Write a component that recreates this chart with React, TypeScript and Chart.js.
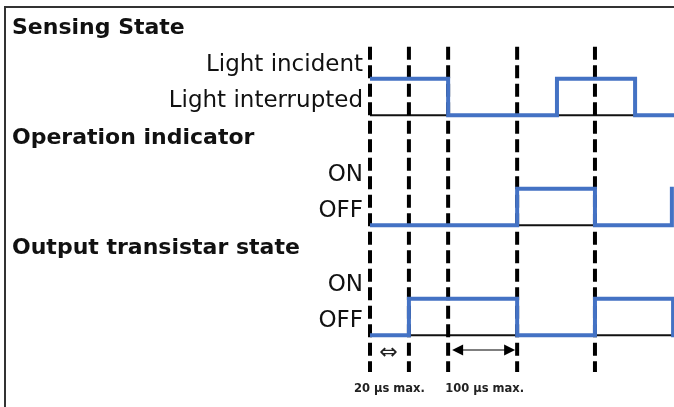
import React, { useEffect, useRef } from "react";
import { Chart, registerables } from "chart.js";

Chart.register(...registerables);

// Timing values (arbitrary time units, 0..100 across the diagram)
const dividerTimes = [0, 12.8, 25.7, 48.4, 74.0];

const sensingTimes = [0, 25.7, 61.5, 87.2, 100];
const sensingStates = [1, 0, 1, 0, 0]; // 1 = light incident, 0 = light interrupted

const indicatorTimes = [0, 48.4, 74.0, 99.3];
const indicatorStates = [0, 1, 0, 1]; // 1 = ON

const outputTimes = [0, 12.8, 48.4, 74.0, 99.7];
const outputStates = [0, 1, 0, 1, 0]; // 1 = ON

const rowLabels = [
  "Sensing State",
  "Light incident",
  "Light interrupted",
  "Operation indicator",
  "ON",
  "OFF",
  "Output transistar state",
  "ON",
  "OFF",
];
const headerRows = [0, 3, 6];

// row index for [low, high] level of each signal
const sensingRows = [2, 1];
const indicatorRows = [5, 4];
const outputRows = [8, 7];

const spanLabels = ["20 µs max.", "100 µs max."];
const spanStart = [0, 2]; // divider index
const spanEnd = [1, 3];

const BLUE = "#4472C4";

function wave(times: number[], states: number[], rows: number[]) {
  return times.map((t, i) => ({ x: t, y: rows[states[i]] }));
}

const textPlugin = {
  id: "timingText",
  afterDraw(chart: any) {
    const ctx = chart.ctx as CanvasRenderingContext2D;
    const xs = chart.scales.x;
    const ys = chart.scales.y;
    ctx.save();
    // frame
    ctx.strokeStyle = "#333";
    ctx.lineWidth = 2;
    ctx.strokeRect(5, 7, 2000, 2000);

    // row labels
    const x0 = xs.getPixelForValue(dividerTimes[0]);
    ctx.fillStyle = "#111";
    ctx.textBaseline = "alphabetic";
    rowLabels.forEach((label, r) => {
      const y = ys.getPixelForValue(r) - 8;
      if (headerRows.includes(r)) {
        ctx.font = "bold 22px 'DejaVu Sans'";
        ctx.textAlign = "left";
        ctx.fillText(label, 12, y);
      } else {
        ctx.font = "23px 'DejaVu Sans'";
        ctx.textAlign = "right";
        ctx.fillText(label, x0 - 7, y);
      }
    });

    // span annotations
    spanLabels.forEach((label, i) => {
      const a = xs.getPixelForValue(dividerTimes[spanStart[i]]);
      const b = xs.getPixelForValue(dividerTimes[spanEnd[i]]);
      const mid = (a + b) / 2;
      if (i === 0) {
        ctx.font = "22px 'DejaVu Sans'";
        ctx.textAlign = "center";
        ctx.textBaseline = "middle";
        ctx.fillStyle = "#222";
        ctx.fillText("⇔", mid - 1, ys.getPixelForValue(8.5));
      } else {
        const y = ys.getPixelForValue(8.4);
        const l = a + 4;
        const rgt = b - 2;
        ctx.strokeStyle = "#555";
        ctx.lineWidth = 1.5;
        ctx.beginPath();
        ctx.moveTo(l + 8, y);
        ctx.lineTo(rgt - 8, y);
        ctx.stroke();
        ctx.fillStyle = "#000";
        ctx.beginPath();
        ctx.moveTo(l, y);
        ctx.lineTo(l + 11, y - 5.5);
        ctx.lineTo(l + 11, y + 5.5);
        ctx.closePath();
        ctx.fill();
        ctx.beginPath();
        ctx.moveTo(rgt, y);
        ctx.lineTo(rgt - 11, y - 5.5);
        ctx.lineTo(rgt - 11, y + 5.5);
        ctx.closePath();
        ctx.fill();
      }
      ctx.font = "bold 11.5px 'DejaVu Sans'";
      ctx.textAlign = "center";
      ctx.textBaseline = "alphabetic";
      ctx.fillStyle = "#222";
      ctx.fillText(label, mid + (i === 1 ? 2 : 0), ys.getPixelForValue(9.55));
    });
    ctx.restore();
  },
};

export default function App() {
  const ref = useRef<HTMLCanvasElement>(null);
  useEffect(() => {
    document.body.style.margin = "0";
    if (!ref.current) return;
    const waveStyle = {
      borderColor: BLUE,
      borderWidth: 4,
      stepped: true as const,
      pointRadius: 0,
      borderCapStyle: "square" as const,
      borderJoinStyle: "miter" as const,
      fill: false,
    };
    const baseStyle = {
      borderColor: "#111",
      borderWidth: 2,
      pointRadius: 0,
      fill: false,
    };
    const datasets: any[] = [
      { label: "Sensing", data: wave(sensingTimes, sensingStates, sensingRows), ...waveStyle },
      { label: "Indicator", data: wave(indicatorTimes, indicatorStates, indicatorRows), ...waveStyle },
      { label: "Output", data: wave(outputTimes, outputStates, outputRows), ...waveStyle },
      ...dividerTimes.map((t) => ({
        label: "divider",
        data: [
          { x: t, y: 0.13 },
          { x: t, y: 9 },
        ],
        borderColor: "#000",
        borderWidth: 4,
        borderDash: [13, 5.5],
        pointRadius: 0,
        fill: false,
        clip: 6,
      })),
      ...[sensingRows, indicatorRows, outputRows].map((rows) => ({
        label: "baseline",
        data: [
          { x: 0, y: rows[0] },
          { x: 99.4, y: rows[0] },
        ],
        ...baseStyle,
      })),
    ];
    const chart = new Chart(ref.current, {
      type: "line",
      data: { datasets },
      options: {
        animation: false,
        responsive: false,
        devicePixelRatio: 1,
        layout: { padding: { left: 370, right: 0, top: 42, bottom: 35 } },
        plugins: { legend: { display: false }, tooltip: { enabled: false } },
        scales: {
          x: { type: "linear", min: 0, max: 100, display: false },
          y: { type: "linear", min: 0, max: 9, reverse: true, display: false },
        },
      },
      plugins: [textPlugin],
    });
    return () => chart.destroy();
  }, []);
  return (
    <div style={{ width: 674, height: 407 }}>
      <canvas ref={ref} width={674} height={407} />
    </div>
  );
}
